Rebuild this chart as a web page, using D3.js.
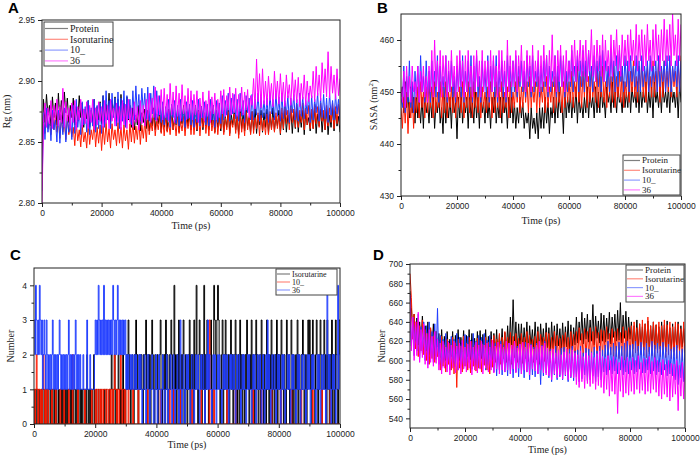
<!DOCTYPE html>
<html><head><meta charset="utf-8">
<script src="https://cdn.jsdelivr.net/npm/d3@7/dist/d3.min.js"></script>
<style>body{margin:0;background:#fff}svg{display:block}</style>
</head><body>
<svg id="c" width="700" height="455"></svg>
<script>
// ---------------- DATA ----------------
const xTicks = [0, 20000, 40000, 60000, 80000, 100000];

// Panel A: Rg (nm), one value every 500 ps (0 .. 100000 ps)
const rgProtein = [2.840,
 2.885,2.866,2.889,2.872,2.880,2.863,2.887,2.870,2.882,2.864,
 2.890,2.868,2.884,2.865,2.891,2.874,2.886,2.866,2.880,2.870,
 2.886,2.864,2.879,2.867,2.888,2.870,2.882,2.862,2.877,2.869,
 2.884,2.862,2.876,2.866,2.885,2.861,2.879,2.868,2.883,2.865,
 2.888,2.866,2.881,2.869,2.890,2.865,2.884,2.872,2.887,2.867,
 2.885,2.864,2.889,2.870,2.882,2.863,2.887,2.868,2.880,2.862,
 2.878,2.860,2.872,2.864,2.880,2.859,2.874,2.866,2.877,2.861,
 2.876,2.859,2.870,2.863,2.878,2.860,2.873,2.865,2.875,2.858,
 2.879,2.862,2.874,2.859,2.877,2.866,2.880,2.860,2.871,2.864,
 2.877,2.858,2.873,2.865,2.880,2.861,2.875,2.863,2.878,2.860,
 2.874,2.862,2.880,2.859,2.876,2.866,2.879,2.860,2.872,2.863,
 2.878,2.860,2.874,2.864,2.880,2.858,2.876,2.862,2.873,2.859,
 2.876,2.858,2.871,2.862,2.878,2.857,2.873,2.864,2.875,2.860,
 2.872,2.856,2.877,2.861,2.874,2.859,2.878,2.863,2.870,2.857,
 2.875,2.860,2.878,2.857,2.872,2.864,2.876,2.858,2.874,2.862,
 2.877,2.857,2.873,2.861,2.878,2.859,2.871,2.863,2.876,2.856,
 2.874,2.860,2.878,2.858,2.872,2.865,2.877,2.857,2.875,2.861,
 2.878,2.858,2.873,2.862,2.876,2.856,2.874,2.864,2.870,2.859,
 2.876,2.861,2.878,2.857,2.873,2.863,2.877,2.858,2.874,2.860,
 2.877,2.856,2.872,2.862,2.878,2.859,2.875,2.863,2.871,2.858];
const rgIso = [2.830,
 2.870,2.857,2.876,2.861,2.868,2.856,2.874,2.860,2.872,2.858,
 2.868,2.853,2.871,2.858,2.866,2.852,2.872,2.856,2.864,2.854,
 2.862,2.847,2.866,2.851,2.860,2.846,2.864,2.850,2.858,2.845,
 2.865,2.848,2.860,2.852,2.866,2.846,2.862,2.849,2.864,2.843,
 2.863,2.848,2.866,2.850,2.861,2.845,2.865,2.852,2.860,2.847,
 2.866,2.849,2.862,2.845,2.864,2.851,2.860,2.844,2.865,2.850,
 2.866,2.849,2.863,2.852,2.868,2.848,2.864,2.853,2.867,2.850,
 2.870,2.856,2.866,2.859,2.872,2.855,2.868,2.860,2.871,2.857,
 2.869,2.855,2.872,2.858,2.866,2.856,2.871,2.860,2.868,2.855,
 2.872,2.857,2.867,2.859,2.871,2.855,2.869,2.861,2.872,2.856,
 2.873,2.856,2.869,2.860,2.875,2.855,2.870,2.862,2.874,2.857,
 2.871,2.855,2.875,2.859,2.868,2.857,2.873,2.856,2.870,2.861,
 2.874,2.856,2.870,2.860,2.875,2.855,2.868,2.862,2.873,2.857,
 2.872,2.853,2.874,2.858,2.869,2.855,2.875,2.860,2.871,2.856,
 2.875,2.857,2.870,2.861,2.874,2.855,2.872,2.859,2.868,2.856,
 2.873,2.856,2.875,2.860,2.870,2.858,2.874,2.861,2.872,2.857,
 2.878,2.861,2.882,2.865,2.876,2.860,2.880,2.866,2.877,2.862,
 2.881,2.862,2.876,2.866,2.882,2.860,2.878,2.864,2.880,2.861,
 2.877,2.861,2.881,2.865,2.879,2.862,2.882,2.867,2.876,2.860,
 2.880,2.863,2.878,2.866,2.882,2.861,2.879,2.865,2.881,2.864];
const rg10 = [2.810,
 2.874,2.852,2.878,2.858,2.870,2.851,2.876,2.860,2.868,2.850,
 2.876,2.849,2.872,2.856,2.878,2.850,2.870,2.858,2.875,2.852,
 2.880,2.857,2.885,2.862,2.876,2.856,2.883,2.864,2.879,2.858,
 2.884,2.856,2.878,2.863,2.885,2.858,2.880,2.861,2.882,2.857,
 2.888,2.862,2.892,2.868,2.884,2.861,2.890,2.870,2.886,2.863,
 2.891,2.861,2.886,2.867,2.892,2.862,2.888,2.869,2.885,2.864,
 2.892,2.868,2.896,2.872,2.889,2.867,2.894,2.874,2.890,2.869,
 2.895,2.867,2.890,2.873,2.896,2.868,2.892,2.871,2.888,2.866,
 2.883,2.864,2.879,2.868,2.885,2.862,2.881,2.870,2.884,2.865,
 2.880,2.863,2.885,2.867,2.878,2.862,2.883,2.869,2.881,2.864,
 2.884,2.862,2.880,2.866,2.885,2.863,2.879,2.870,2.883,2.864,
 2.881,2.863,2.885,2.868,2.880,2.862,2.884,2.866,2.882,2.865,
 2.888,2.868,2.884,2.872,2.890,2.867,2.886,2.873,2.889,2.869,
 2.885,2.867,2.890,2.871,2.884,2.866,2.888,2.874,2.886,2.868,
 2.889,2.868,2.885,2.872,2.890,2.867,2.887,2.870,2.884,2.869,
 2.886,2.866,2.889,2.873,2.885,2.868,2.890,2.871,2.887,2.867,
 2.890,2.869,2.884,2.872,2.888,2.866,2.886,2.874,2.889,2.868,
 2.885,2.867,2.890,2.871,2.887,2.869,2.884,2.873,2.890,2.866,
 2.888,2.868,2.885,2.874,2.890,2.867,2.886,2.870,2.889,2.869,
 2.886,2.866,2.890,2.872,2.884,2.868,2.889,2.873,2.885,2.867];
const rg36 = [2.800,
 2.866,2.882,2.862,2.878,2.865,2.884,2.861,2.880,2.868,2.885,
 2.863,2.879,2.866,2.894,2.862,2.883,2.867,2.878,2.861,2.882,
 2.866,2.884,2.860,2.879,2.868,2.885,2.862,2.877,2.865,2.883,
 2.861,2.880,2.866,2.885,2.860,2.878,2.864,2.883,2.867,2.879,
 2.862,2.884,2.865,2.880,2.861,2.885,2.867,2.878,2.863,2.882,
 2.866,2.879,2.860,2.884,2.864,2.881,2.861,2.885,2.866,2.878,
 2.862,2.883,2.866,2.879,2.860,2.884,2.865,2.880,2.863,2.885,
 2.868,2.890,2.866,2.886,2.870,2.895,2.867,2.888,2.872,2.893,
 2.868,2.894,2.870,2.889,2.867,2.898,2.872,2.891,2.866,2.896,
 2.871,2.890,2.867,2.897,2.873,2.888,2.868,2.894,2.870,2.892,
 2.868,2.889,2.872,2.892,2.866,2.886,2.870,2.891,2.867,2.884,
 2.871,2.892,2.866,2.887,2.873,2.890,2.868,2.885,2.870,2.892,
 2.873,2.893,2.871,2.888,2.876,2.895,2.872,2.890,2.874,2.894,
 2.871,2.889,2.875,2.895,2.872,2.891,2.876,2.893,2.870,2.888,
 2.880,2.902,2.877,2.918,2.883,2.906,2.878,2.910,2.881,2.900,
 2.880,2.904,2.884,2.898,2.879,2.908,2.885,2.900,2.881,2.906,
 2.883,2.899,2.879,2.905,2.886,2.897,2.880,2.907,2.884,2.901,
 2.882,2.903,2.879,2.898,2.885,2.905,2.880,2.900,2.883,2.896,
 2.886,2.908,2.883,2.912,2.888,2.905,2.884,2.915,2.890,2.910,
 2.887,2.924,2.886,2.912,2.890,2.905,2.885,2.910,2.888,2.902];

// Panel B: SASA (nm^2), every 500 ps
const sasaProtein = [449,
 451,446,452,447,450,445,451,446,449,444,
 450,445,448,444,449,443,450,446,448,444,
 449,445,450,443,448,446,450,444,447,442,
 450,444,448,445,449,443,450,446,448,441,
 449,445,450,444,448,446,449,443,450,445,
 448,444,450,445,449,443,451,446,448,444,
 450,445,448,443,449,446,450,444,448,445,
 449,444,450,446,448,443,449,445,450,444,
 448,443,447,444,449,445,448,443,446,444,
 446,441,447,443,445,442,446,441,447,443,
 447,443,449,444,448,442,447,445,449,444,
 449,445,450,446,448,442,451,445,449,446,
 450,445,449,446,451,444,450,446,448,445,
 449,446,451,445,450,447,449,445,451,446,
 450,446,452,447,449,445,451,448,450,446,
 452,447,450,446,451,448,449,446,452,447,
 450,447,452,446,451,448,450,447,452,446,
 451,447,450,448,452,446,450,447,451,445,
 452,448,450,447,451,446,452,448,450,447,
 451,446,452,448,450,447,451,445,452,448];
const sasaIso = [447,
 443,449,444,450,442,448,445,450,443,449,
 446,451,445,452,447,450,445,451,446,452,
 447,451,445,452,446,450,447,452,445,451,
 446,452,445,450,447,451,446,452,445,450,
 447,451,446,452,445,450,447,452,446,451,
 445,452,447,450,446,452,445,451,447,450,
 446,451,447,452,445,450,446,452,447,451,
 445,452,446,450,447,451,445,452,446,450,
 447,452,448,453,446,451,447,453,448,452,
 446,453,447,451,448,452,446,453,447,451,
 448,452,446,453,447,451,448,452,446,453,
 447,453,448,451,446,452,447,453,448,452,
 448,454,447,452,449,455,448,453,447,454,
 449,455,447,453,448,454,449,452,448,455,
 447,454,449,455,448,452,447,455,449,453,
 448,455,447,453,449,454,448,455,447,452,
 449,455,448,454,450,456,449,453,448,455,
 450,456,449,454,448,455,450,453,449,456,
 449,454,450,456,448,455,449,456,450,454,
 450,456,449,455,451,454,449,456,450,457];
const sasa10 = [449,
 447,455,446,453,448,456,447,452,446,454,
 449,455,448,457,450,453,448,456,449,454,
 448,456,450,454,449,457,448,455,450,453,
 449,457,448,454,450,456,449,453,448,455,
 450,456,449,457,448,454,450,456,449,457,
 448,455,450,457,449,453,448,456,450,454,
 449,457,448,455,450,456,449,457,448,454,
 450,456,449,454,448,457,450,455,449,456,
 450,457,449,455,451,456,450,454,449,457,
 451,455,449,457,450,454,451,456,449,455,
 450,456,451,457,449,455,450,454,451,457,
 449,455,450,457,451,456,449,454,450,456,
 451,458,450,455,452,457,450,456,451,458,
 450,456,452,458,451,455,450,457,452,456,
 451,457,450,458,452,456,451,455,450,458,
 452,456,450,457,451,458,452,455,450,457,
 451,456,450,457,452,455,451,457,450,456,
 450,457,451,455,452,456,450,457,451,455,
 452,456,450,457,451,455,452,456,450,457,
 451,457,450,455,452,456,451,457,450,456];
const sasa36 = [451,
 448,454,447,455,449,453,448,455,450,452,
 449,455,448,454,450,455,449,453,448,455,
 450,458,449,460,451,456,450,458,449,457,
 451,457,449,456,450,458,451,455,449,457,
 450,458,451,456,449,457,450,458,451,455,
 449,457,450,458,451,456,449,458,450,456,
 451,456,449,458,450,457,451,455,449,458,
 450,458,451,456,449,460,450,457,451,456,
 451,458,450,457,452,459,451,456,450,458,
 452,457,450,459,451,456,452,458,450,457,
 451,459,452,457,450,458,451,461,452,457,
 450,458,452,459,451,457,450,458,452,456,
 452,459,453,460,452,458,454,460,453,459,
 453,460,452,458,454,462,453,459,452,460,
 454,459,453,461,452,460,454,458,453,461,
 453,460,455,462,454,459,453,461,455,460,
 455,461,454,462,456,460,455,463,454,461,
 456,462,454,461,455,463,456,460,454,462,
 455,463,456,461,454,462,456,464,455,462,
 456,463,455,465,457,461,455,464,456,463];

// Panel C: number of hydrogen bonds, one value every 250 ps
const hbIso = [
 0,1,0,1,1,0,1,0,0,1,0,1,1,0,1,0,1,1,0,1,
 1,0,1,0,1,1,0,1,0,1,0,0,1,0,1,1,0,1,0,1,
 0,1,0,1,0,1,1,0,1,0,1,0,1,1,0,1,0,1,0,0,
 1,0,1,0,1,1,0,1,0,2,1,0,1,0,1,1,0,1,2,0,
 0,1,0,0,1,0,0,1,0,0,0,1,0,0,1,0,0,0,1,0,
 1,2,1,0,1,2,0,1,0,1,2,1,0,1,0,1,2,0,1,0,
 1,2,1,3,2,1,0,1,2,1,0,2,1,3,1,2,0,1,2,1,
 2,1,0,2,1,2,3,1,0,2,1,2,0,1,3,2,1,0,2,1,
 1,2,0,1,2,3,1,0,2,1,2,0,3,1,2,0,1,2,1,3,
 2,1,0,4,1,2,0,2,1,3,1,0,2,1,2,3,0,1,2,1,
 0,2,1,3,0,2,1,2,0,3,1,2,4,1,0,2,3,1,2,0,
 2,1,4,0,2,1,3,2,0,1,2,3,1,0,2,4,3,2,1,3,
 4,3,2,0,1,2,3,0,2,1,3,2,0,1,2,0,2,3,1,2,
 0,2,1,3,2,0,1,2,0,3,1,2,0,2,1,0,2,1,3,2,
 1,0,2,1,3,0,2,1,0,2,3,1,2,0,1,2,0,3,1,2,
 0,2,1,0,3,1,2,0,2,1,3,0,2,1,0,2,1,3,0,2,
 1,2,0,3,2,1,0,2,1,0,3,2,1,2,0,1,3,2,0,2,
 1,0,2,1,3,0,2,1,0,2,1,3,2,0,1,2,0,1,3,2,
 3,1,2,0,3,2,1,0,2,3,1,0,2,1,3,2,0,1,2,3,
 1,2,0,3,1,2,0,2,1,3,0,2,1,0,3,2,1,0,2,3,3];
const hb10 = [
 1,0,1,2,1,0,1,1,0,1,0,1,2,1,0,1,0,1,1,0,
 0,0,0,1,0,0,0,0,1,0,0,0,0,0,1,0,0,0,0,1,
 0,0,0,0,0,1,0,0,0,0,2,0,0,0,0,0,0,1,0,0,
 0,0,0,0,0,0,1,0,0,0,0,0,0,0,0,1,0,0,0,0,
 1,0,1,1,0,1,1,0,1,1,0,1,1,1,0,1,1,0,1,1,
 0,1,1,0,1,2,1,1,0,1,1,0,1,2,1,0,1,1,0,1,
 0,0,0,1,0,0,0,0,0,1,0,0,0,0,0,0,1,0,0,0,
 0,0,0,0,0,0,0,0,1,0,0,0,0,0,0,0,0,0,0,0,
 0,0,0,0,0,1,0,0,0,0,0,0,0,0,0,0,0,1,0,0,
 0,0,1,0,0,0,0,0,0,0,0,1,0,0,0,0,0,0,0,0,
 0,0,0,0,0,0,1,0,0,0,0,0,0,0,0,0,0,0,1,0,
 0,0,0,0,0,0,0,0,0,3,0,0,0,0,0,1,0,0,0,0,
 0,0,0,0,0,0,0,0,0,0,0,0,1,0,0,0,0,0,0,0,
 0,0,0,1,0,0,0,0,0,0,0,0,0,0,0,0,0,0,0,0,
 0,0,0,0,0,0,1,0,0,0,0,0,0,0,0,0,0,1,0,0,
 0,0,0,0,0,0,0,0,0,0,1,0,0,0,0,0,0,0,0,0,
 0,0,1,0,0,0,0,0,0,0,0,0,0,0,0,0,1,0,0,0,
 0,0,0,0,0,0,0,0,0,1,0,0,0,0,0,0,0,0,0,0,
 0,0,0,0,1,0,0,0,0,0,0,0,0,0,0,0,1,0,0,0,
 0,0,0,0,0,0,0,1,0,0,0,0,0,0,0,0,0,0,0,0,0];
const hb36 = [
 3,2,4,3,2,3,2,4,3,2,3,1,2,3,2,1,3,2,1,2,
 1,2,1,2,3,1,2,1,2,1,2,1,2,3,2,1,2,1,2,1,
 2,1,2,1,2,3,1,2,1,2,1,2,1,2,3,1,2,1,2,1,
 2,1,1,1,2,1,1,1,1,3,1,1,1,2,1,1,1,1,1,2,
 3,2,3,2,4,3,2,3,2,3,2,4,2,3,2,3,2,3,2,3,
 2,3,2,4,3,2,3,2,3,4,2,3,2,3,2,3,2,3,2,3,
 1,2,1,2,1,1,2,1,2,1,1,2,1,2,1,1,1,2,1,2,
 1,0,1,1,2,1,0,1,2,2,1,0,1,1,2,1,0,0,1,2,
 1,0,1,2,1,1,0,1,2,1,0,0,1,2,1,0,1,1,2,1,
 0,1,2,1,0,1,1,2,1,0,1,3,1,0,1,2,1,0,1,2,
 1,2,1,1,0,1,2,2,1,0,1,2,1,1,2,1,0,1,2,1,
 1,2,1,0,1,2,1,3,1,2,1,1,0,1,2,1,2,1,0,1,
 2,1,2,1,1,0,1,2,1,2,1,1,2,1,0,1,2,1,2,1,
 1,2,1,0,1,2,1,1,2,1,0,1,2,1,2,1,1,0,1,2,
 1,2,1,1,0,1,2,1,2,1,0,1,2,1,1,2,1,0,1,2,
 1,0,1,2,1,3,1,2,1,0,1,2,1,1,2,1,0,1,2,1,
 2,1,0,1,2,1,2,1,0,1,1,2,1,2,1,0,1,2,1,2,
 1,1,0,1,2,1,2,1,0,1,2,1,1,2,1,0,1,2,1,2,
 1,0,1,2,1,2,1,1,0,1,2,1,2,1,0,1,2,1,1,2,
 1,0,1,4,2,1,2,1,0,1,2,1,2,1,0,1,2,4,1,2,2];

// Panel D: Number (protein-water H-bonds), every 500 ps
const dProtein = [672,
 655,628,648,620,644,616,640,618,646,622,
 636,610,640,606,632,612,638,605,630,614,
 628,603,632,606,625,600,630,608,622,604,
 630,602,626,607,632,600,624,609,631,603,
 626,604,632,601,628,607,623,600,630,605,
 631,602,627,608,632,603,625,606,630,601,
 628,606,632,603,626,609,633,604,629,607,
 636,610,645,612,663,615,640,609,638,613,
 638,610,634,613,640,608,636,614,632,611,
 640,612,635,609,638,614,633,610,639,612,
 634,609,640,613,636,610,638,615,633,611,
 639,612,635,614,641,610,637,613,634,616,
 645,618,640,621,650,617,644,622,648,619,
 642,620,658,616,646,623,641,618,649,620,
 647,619,644,622,650,617,645,624,648,620,
 652,621,660,618,647,623,651,619,645,622,
 640,612,636,615,642,610,638,614,635,611,
 638,613,641,609,636,614,640,612,637,610,
 635,612,640,614,637,609,641,613,634,610,
 638,609,635,613,640,611,636,614,633,608];
const dIso = [690,
 665,622,648,612,640,604,636,610,642,606,
 632,600,628,596,634,602,625,598,630,604,
 620,590,625,594,616,588,622,596,618,590,
 624,586,618,572,622,592,615,588,625,594,
 618,590,624,587,620,594,616,589,623,592,
 621,588,617,595,624,590,619,586,622,593,
 626,598,622,601,628,596,624,602,630,598,
 624,600,629,596,625,603,628,598,623,601,
 628,597,624,602,630,599,626,603,622,598,
 625,601,630,596,627,603,624,599,629,602,
 628,598,624,602,630,597,626,601,623,599,
 626,603,629,598,624,601,630,600,627,597,
 630,602,634,606,628,600,633,605,630,603,
 634,601,630,606,635,603,629,600,632,605,
 631,604,635,601,628,606,633,602,630,604,
 633,602,629,605,635,600,631,604,634,603,
 636,604,640,608,634,602,638,606,642,605,
 638,603,645,607,636,605,640,602,637,608,
 640,604,636,607,642,603,637,606,640,602,
 635,605,640,602,638,607,633,600,640,604];
const d10 = [655,
 615,645,605,640,610,648,602,635,608,640,
 600,636,596,640,603,630,598,638,601,654,
 596,626,592,622,598,628,594,620,590,625,
 597,622,593,628,590,624,596,620,592,627,
 594,625,598,621,591,628,595,620,593,626,
 592,624,596,628,590,621,595,626,593,620,
 588,618,584,614,590,620,585,616,588,612,
 584,618,586,612,582,620,588,615,583,617,
 586,614,582,619,588,612,580,617,585,614,
 583,618,586,612,575,616,584,620,587,613,
 582,612,578,608,585,615,580,610,583,613,
 580,614,584,609,578,612,582,615,579,610,
 583,611,578,615,581,608,585,613,579,612,
 580,609,584,614,578,610,583,615,580,611,
 588,616,585,620,590,614,586,618,589,615,
 586,619,590,615,585,618,588,620,586,616,
 590,617,586,620,588,615,591,619,587,614,
 587,618,590,614,586,620,589,616,585,618,
 588,615,585,619,590,614,584,617,586,612,
 584,614,580,616,575,610,582,612,578,615];
const d36 = [668,
 610,645,600,640,605,650,598,632,603,638,
 596,628,592,632,598,625,594,630,597,622,
 590,618,586,620,592,614,588,619,585,616,
 592,620,587,615,590,618,586,621,591,614,
 588,617,592,620,585,614,590,619,587,616,
 591,620,586,616,592,618,588,614,590,621,
 587,615,591,619,586,617,590,614,588,620,
 590,618,586,616,591,620,587,613,592,617,
 586,619,590,614,588,618,585,616,591,612,
 589,616,586,620,590,615,587,618,585,613,
 584,610,580,612,586,608,582,611,585,606,
 581,609,585,612,580,607,583,611,582,608,
 575,606,572,610,578,604,571,608,576,605,
 573,608,576,603,570,607,574,610,572,604,
 566,602,570,605,563,600,568,604,565,601,
 545,598,568,604,562,600,566,603,564,599,
 568,603,565,600,570,605,566,598,569,602,
 565,601,568,604,566,599,570,603,567,600,
 563,598,560,601,565,596,562,600,558,597,
 562,596,565,600,548,595,563,598,560,594];

const names4 = ["Protein", "Isorutarine", "10_", "36"];
const names3 = ["Isorutarine", "10_", "36"];
const colors4 = ["#000000", "#ff1a00", "#1f3cff", "#ff00ff"];
const colors3 = ["#000000", "#ff1a00", "#1f3cff"];

// ---------------- DRAW ----------------
const svg = d3.select("#c");
const SANS = "'Liberation Sans', Arial, sans-serif";
const SERIF = "'Liberation Serif', 'Times New Roman', serif";

function drawPanel(p) {
  const g = svg.append("g");
  const x = d3.scaleLinear().domain([0, 100000]).range([p.x0, p.x1]);
  const y = d3.scaleLinear().domain(p.yDomain).range([p.y1, p.y0]);
  const clipId = "clip" + p.letter;
  svg.append("clipPath").attr("id", clipId).append("rect")
    .attr("x", p.x0).attr("y", p.y0).attr("width", p.x1 - p.x0).attr("height", p.y1 - p.y0);
  const lg = g.append("g").attr("clip-path", `url(#${clipId})`);
  p.series.forEach((vals, k) => {
    const n = vals.length;
    const line = d3.line()
      .x((d, i) => x(i * 100000 / (n - 1)))
      .y(d => y(d))
      .curve(p.step ? d3.curveStepAfter : d3.curveLinear);
    lg.append("path").datum(vals).attr("d", line)
      .attr("fill", "none").attr("stroke", p.colors[k])
      .attr("stroke-width", p.sw || 1).attr("stroke-linejoin", "miter");
  });

  const tf = 8.5;
  const xa = g.append("g").attr("transform", `translate(0,${p.y1})`)
    .call(d3.axisBottom(x).tickValues(xTicks).tickFormat(d3.format("d"))
      .tickSize(4).tickSizeOuter(0).tickPadding(3));
  const xm = g.append("g").attr("transform", `translate(0,${p.y1})`)
    .call(d3.axisBottom(x).tickValues(d3.range(10000, 100000, 20000)).tickFormat("")
      .tickSize(2.5).tickSizeOuter(0));
  const ya = g.append("g").attr("transform", `translate(${p.x0},0)`)
    .call(d3.axisLeft(y).tickValues(p.yTicks).tickFormat(p.yFmt)
      .tickSize(4).tickSizeOuter(0).tickPadding(3));
  const ym = g.append("g").attr("transform", `translate(${p.x0},0)`)
    .call(d3.axisLeft(y).tickValues(p.yMinor).tickFormat("")
      .tickSize(2.5).tickSizeOuter(0));
  [xa, ya].forEach(a => a.attr("font-family", SANS).attr("font-size", tf)
    .selectAll("text").attr("fill", "#222"));
  [xa, xm, ya, ym].forEach(a => { a.select(".domain").remove();
    a.selectAll("line").attr("stroke", "#222"); });

  g.append("rect").attr("x", p.x0).attr("y", p.y0)
    .attr("width", p.x1 - p.x0).attr("height", p.y1 - p.y0)
    .attr("fill", "none").attr("stroke", "#222").attr("stroke-width", 1);

  g.append("text").attr("x", (p.x0 + p.x1) / 2).attr("y", p.xLabelY)
    .attr("text-anchor", "middle").attr("font-family", SERIF).attr("font-size", 10)
    .attr("fill", "#222").text("Time (ps)");
  const yl = g.append("text")
    .attr("transform", `translate(${p.yLabelX},${(p.y0 + p.y1) / 2}) rotate(-90)`)
    .attr("text-anchor", "middle").attr("font-family", SERIF).attr("font-size", 10)
    .attr("fill", "#222");
  if (p.yLabelSup) {
    yl.append("tspan").text(p.yLabel);
    yl.append("tspan").attr("dy", -4).attr("font-size", 7).text(p.yLabelSup);
    yl.append("tspan").attr("dy", 4).text(")");
  } else yl.text(p.yLabel);

  g.append("text").attr("x", p.letterX).attr("y", p.letterY)
    .attr("font-family", SANS).attr("font-weight", "bold").attr("font-size", 15)
    .attr("fill", "#000").text(p.letter);

  const L = p.legend;
  const leg = g.append("g").attr("transform", `translate(${L.x},${L.y})`);
  leg.append("rect").attr("width", L.w).attr("height", L.h)
    .attr("fill", "#fff").attr("stroke", "#444").attr("stroke-width", 1);
  p.names.forEach((nm, k) => {
    const yy = L.first + k * L.step;
    leg.append("line").attr("x1", 1).attr("x2", L.lineW).attr("y1", yy).attr("y2", yy)
      .attr("stroke", p.colors[k]).attr("stroke-opacity", 0.5).attr("stroke-width", 1.2);
    leg.append("text").attr("x", L.lineW + 2).attr("y", yy + L.fs * 0.33)
      .attr("font-family", SERIF).attr("font-size", L.fs).attr("fill", "#222").text(nm);
  });
}

drawPanel({
  letter: "A", letterX: 8, letterY: 13,
  x0: 42, x1: 340, y0: 20, y1: 203,
  yDomain: [2.80, 2.95], yTicks: [2.80, 2.85, 2.90, 2.95],
  yMinor: [2.825, 2.875, 2.925], yFmt: d3.format(".2f"),
  series: [rgProtein, rgIso, rg10, rg36], colors: colors4, names: names4,
  xLabelY: 229, yLabelX: 10, yLabel: "Rg (nm)",
  legend: { x: 44, y: 22, w: 69, h: 44, first: 6.5, step: 10.8, lineW: 24, fs: 10 }
});
drawPanel({
  letter: "B", letterX: 377, letterY: 13,
  x0: 401, x1: 681, y0: 14, y1: 196,
  yDomain: [430, 465], yTicks: [430, 440, 450, 460],
  yMinor: [435, 445, 455], yFmt: d3.format("d"),
  series: [sasaProtein, sasaIso, sasa10, sasa36], colors: colors4, names: names4,
  xLabelY: 224, yLabelX: 377, yLabel: "SASA (nm", yLabelSup: "2",
  legend: { x: 623, y: 155, w: 57, h: 40, first: 5.5, step: 9.8, lineW: 17, fs: 9 }
});
drawPanel({
  letter: "C", letterX: 10, letterY: 260, step: true,
  x0: 34, x1: 340, y0: 268, y1: 424,
  yDomain: [0, 4.5], yTicks: [0, 1, 2, 3, 4],
  yMinor: [0.5, 1.5, 2.5, 3.5], yFmt: d3.format("d"),
  series: [hbIso, hb10, hb36], colors: colors3, names: names3,
  xLabelY: 448, yLabelX: 14, yLabel: "Number",
  legend: { x: 276, y: 269, w: 61, h: 26, first: 5, step: 8, lineW: 14, fs: 8 }
});
drawPanel({
  letter: "D", letterX: 373, letterY: 260,
  x0: 410, x1: 685, y0: 264, y1: 428,
  yDomain: [530, 700], yTicks: [540, 560, 580, 600, 620, 640, 660, 680, 700],
  yMinor: [550, 570, 590, 610, 630, 650, 670, 690], yFmt: d3.format("d"),
  series: [dProtein, dIso, d10, d36], colors: colors4, names: names4,
  xLabelY: 453, yLabelX: 385, yLabel: "Number",
  legend: { x: 626, y: 265, w: 58, h: 37, first: 5, step: 8.8, lineW: 17, fs: 9 }
});
</script>
</body></html>
